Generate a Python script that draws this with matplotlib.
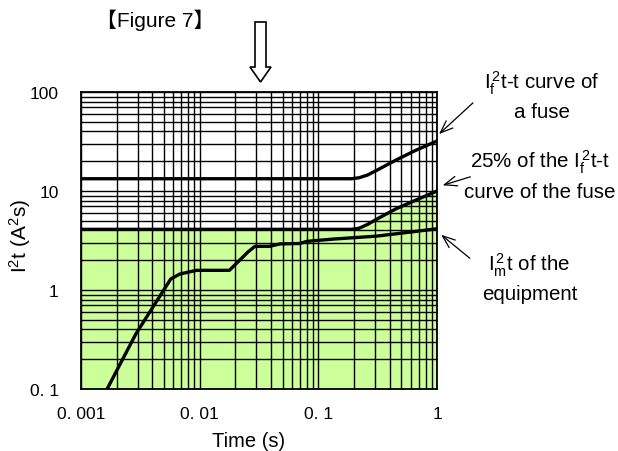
import numpy as np
import matplotlib
matplotlib.use("Agg")
import matplotlib.pyplot as plt
from matplotlib.patches import Polygon

plt.rcParams['font.family'] = ['Liberation Sans', 'Noto Sans CJK JP', 'DejaVu Sans']
plt.rcParams['mathtext.fontset'] = 'custom'
plt.rcParams['mathtext.rm'] = 'Liberation Sans'
plt.rcParams['mathtext.it'] = 'Liberation Sans:italic'

# I2t-t curve of the fuse
fuse_t = [0.001, 0.19, 0.22, 0.26, 0.32, 0.45, 0.65, 1.0]
fuse_i2t = [13.3, 13.3, 13.6, 14.5, 16.5, 20.5, 25.5, 32.0]

# 25% of the fuse curve (allowed region)
quarter_t = [0.001, 0.19, 0.22, 0.26, 0.32, 0.45, 0.65, 1.0]
quarter_i2t = [4.1, 4.1, 4.2, 4.6, 5.3, 6.6, 8.0, 10.0]

# I_m^2 t of the equipment
equip_t = [0.00166, 0.0029, 0.0057, 0.0068, 0.0094, 0.0178, 0.0257, 0.0292,
           0.0386, 0.0475, 0.07, 0.08, 0.134, 0.31, 1.0]
equip_i2t = [0.1, 0.36, 1.29, 1.45, 1.58, 1.58, 2.44, 2.76,
             2.76, 2.92, 2.95, 3.1, 3.27, 3.5, 4.15]

x_ticks = [0.001, 0.01, 0.1, 1]
x_labels = ["0. 001", "0. 01", "0. 1", "1"]
y_ticks = [0.1, 1, 10, 100]
y_labels = ["0. 1", "1", "10", "100"]

W, H = 618, 452
fig = plt.figure(figsize=(W / 100, H / 100), dpi=100)
ax = fig.add_axes([81 / W, 62 / H, 356 / W, 297 / H])
ax.set_xscale('log')
ax.set_yscale('log')
ax.set_xlim(0.001, 1)
ax.set_ylim(0.1, 100)

ax.fill_between(quarter_t, 0.1, quarter_i2t, color='#ccff99', lw=0, zorder=0)
ax.grid(True, which='both', color='black', lw=1.0, zorder=1)
ax.set_axisbelow(False)

ax.plot(fuse_t, fuse_i2t, color='black', lw=2.4, zorder=3)
ax.plot(quarter_t, quarter_i2t, color='black', lw=2.4, zorder=3)
ax.plot(equip_t, equip_i2t, color='black', lw=2.4, zorder=3)

ax.set_xticks(x_ticks)
ax.set_xticklabels(x_labels, fontsize=12.5)
ax.set_yticks(y_ticks)
ax.set_yticklabels(y_labels, fontsize=12.5)
ax.tick_params(axis='x', which='both', length=0, pad=12)
ax.tick_params(axis='y', which='both', length=0, pad=16)
for s in ax.spines.values():
    s.set_color('black')
    s.set_linewidth(1.3)

fig.text(249 / W, 1 - 442 / H, "Time (s)", fontsize=14.5, ha='center', va='center')
fig.text(20 / W, 1 - 236 / H, r"$\mathregular{I^2t\ (A^2s)}$", fontsize=15,
         rotation=90, ha='center', va='center')
fig.text(155 / W, 1 - 20 / H, "【Figure 7】", fontsize=15, ha='center', va='center')

# hollow arrow above the chart
arrow_px = [(255, 23), (266, 23), (266, 68), (271, 68), (260.5, 83),
            (250, 68), (255, 68)]
arrow = Polygon([(x / W, 1 - y / H) for x, y in arrow_px], closed=True,
                facecolor='white', edgecolor='black', lw=1.2,
                transform=fig.transFigure)
fig.patches.append(arrow)

label_kw = dict(fontsize=14.8, ha='center', va='center')
fig.text(542 / W, 1 - 83 / H, r"$\mathregular{I_f^{\,2}t}$-t curve of", **label_kw)
fig.text(542 / W, 1 - 113 / H, "a fuse", **label_kw)
fig.text(540 / W, 1 - 162 / H, r"25% of the $\mathregular{I_f^{\,2}t}$-t", **label_kw)
fig.text(540 / W, 1 - 192 / H, "curve of the fuse", **label_kw)
fig.text(529 / W, 1 - 265 / H, r"$\mathregular{I_m^{\,2}t}$ of the", **label_kw)
fig.text(530 / W, 1 - 295 / H, "equipment", **label_kw)

arr_kw = dict(arrowstyle='->,head_length=0.9,head_width=0.35', color='black', lw=0.9)
ax.annotate('', xy=(1.0, 36), xytext=(475, H - 102), textcoords='figure pixels',
            arrowprops=arr_kw, annotation_clip=False)
ax.annotate('', xy=(1.06, 11.2), xytext=(473, H - 177), textcoords='figure pixels',
            arrowprops=arr_kw, annotation_clip=False)
ax.annotate('', xy=(1.04, 3.76), xytext=(472, H - 261), textcoords='figure pixels',
            arrowprops=arr_kw, annotation_clip=False)

fig.savefig('out.png', dpi=100)
